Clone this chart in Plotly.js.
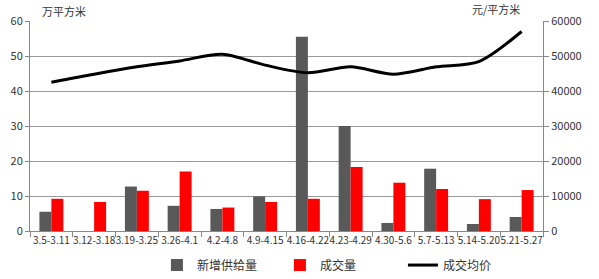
<!DOCTYPE html>
<html><head><meta charset="utf-8">
<script src="https://cdn.plot.ly/plotly-3.0.1.min.js"></script>
<style>body{margin:0;background:#fff}#c{width:599px;height:279px}</style>
</head><body><div id="c"></div>
<script>
const categories = ["3.5-3.11","3.12-3.18","3.19-3.25","3.26-4.1","4.2-4.8","4.9-4.15","4.16-4.22","4.23-4.29","4.30-5.6","5.7-5.13","5.14-5.20","5.21-5.27"];
const supply = [5.5, 0, 12.7, 7.2, 6.3, 9.9, 55.5, 30.0, 2.3, 17.8, 2.0, 4.0];
const deals = [9.2, 8.3, 11.5, 17.0, 6.7, 8.3, 9.2, 18.3, 13.8, 12.0, 9.1, 11.7];
const avgPrice = [42500, 44800, 46900, 48600, 50500, 47400, 45200, 46900, 44800, 46900, 48400, 57000];
const names = ["新增供给量", "成交量", "成交均价"];
const leftUnit = "万平方米", rightUnit = "元/平方米";

const font = "'Noto Sans CJK SC', 'Noto Sans', sans-serif";
const data = [
  {type:'bar', x:categories, y:supply, name:names[0], marker:{color:'#595959'}},
  {type:'bar', x:categories, y:deals, name:names[1], marker:{color:'#FF0000'}},
  {type:'scatter', mode:'lines', x:categories, y:avgPrice, name:names[2], yaxis:'y2',
   line:{color:'#000', width:3, shape:'spline', smoothing:0.8}}
];
const layout = {
  width:599, height:279,
  margin:{l:30, r:56, t:21, b:48},
  paper_bgcolor:'#fff', plot_bgcolor:'#fff',
  font:{family:font, size:11, color:'#333'},
  barmode:'group', bargap:0.44, bargroupgap:0,
  showlegend:true,
  legend:{orientation:'h', xref:'container', yref:'container', x:0.57, xanchor:'center', y:0.05, yanchor:'middle',
          font:{size:12, color:'#333'}, itemwidth:30, entrywidth:78, traceorder:'normal'},
  xaxis:{type:'category', tickson:'boundaries', ticks:'outside', ticklen:5, tickcolor:'#888',
         showline:true, linecolor:'#888', showgrid:false, tickangle:0, automargin:false,
         tickfont:{size:10, color:'#333'}, fixedrange:true},
  yaxis:{range:[0,60], dtick:10, showgrid:true, gridcolor:'#999', showline:true, linecolor:'#888', automargin:false,
         ticks:'outside', ticklen:4, tickcolor:'#888', zeroline:false, tickfont:{size:11}},
  yaxis2:{range:[0,60000], dtick:10000, tickformat:'d', overlaying:'y', side:'right', showgrid:false, automargin:false,
          showline:true, linecolor:'#888', ticks:'outside', ticklen:5, tickcolor:'#888',
          zeroline:false, tickfont:{size:11}},
  annotations:[
    {text:leftUnit, xref:'paper', yref:'paper', x:0.02, y:1.0, xanchor:'left', yanchor:'bottom', showarrow:false, font:{size:11, color:'#333'}},
    {text:rightUnit, xref:'paper', yref:'paper', x:0.96, y:1.01, xanchor:'right', yanchor:'bottom', showarrow:false, font:{size:11, color:'#333'}}
  ]
};
Plotly.newPlot('c', data, layout, {displayModeBar:false, staticPlot:true});
</script></body></html>
